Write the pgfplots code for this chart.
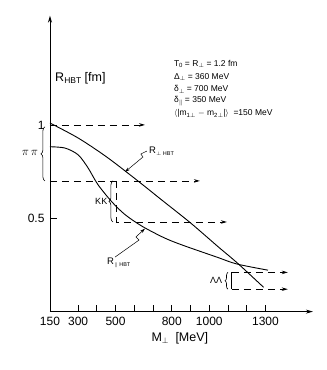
\documentclass[border=0pt]{standalone}
\usepackage{pgfplots}
\pgfplotsset{compat=1.18}
\usepackage{fontspec}
\setmainfont{Liberation Sans}
\usetikzlibrary{arrows.meta,decorations.pathreplacing}
\newcommand\sub[2][6]{\raisebox{-0.4ex}{\fontsize{#1}{#1}\selectfont #2}}
\begin{document}
\begin{tikzpicture}
\begin{axis}[
  scale only axis, width=263pt, height=296pt,
  xmin=150, xmax=1553, ymin=0, ymax=1.585,
  axis lines=left,
  axis line style={line width=0.9pt, -{Stealth[length=7pt,width=4pt]}},
  clip=false,
  xtick={150,300,500,800,1000,1300},
  minor xtick={400,600,700,900,1100,1200},
  ytick={0.5,1},
  yticklabels={0.5,1},
  tick align=inside,
  major tick length=7pt, minor tick length=7pt,
  tick style={line width=0.8pt, black},
  ticklabel style={font=\fontsize{12}{14}\selectfont},
  /pgf/number format/assume math mode=true,
  xticklabel style={yshift=-2pt},
  yticklabel style={xshift=-2pt},
  scaled x ticks=false,
  x tick label style={/pgf/number format/set thousands separator={}},
]
% R_perp HBT
\addplot[black, line width=0.9pt, smooth] coordinates {(150,1.01)(300,0.93)(450,0.83)(600,0.715)(750,0.595)(900,0.475)(1050,0.345)(1150,0.26)(1290,0.13)};
% R_par HBT
\addplot[black, line width=0.9pt, smooth] coordinates {(150,0.883)(230,0.876)(300,0.84)(353,0.77)(406,0.68)(481,0.587)(550,0.520)(640,0.458)(760,0.395)(860,0.355)(1040,0.292)(1147,0.255)(1313,0.222)};
% dashed reference lines
\addplot[black, line width=0.8pt, dash pattern=on 7pt off 5pt, -{Stealth[length=6pt,width=3.5pt]}] coordinates {(150,1.0)(657,1.0)};
\addplot[black, line width=0.8pt, dash pattern=on 7pt off 5pt, -{Stealth[length=6pt,width=3.5pt]}] coordinates {(150,0.70)(950,0.70)};
\addplot[black, line width=0.8pt, dash pattern=on 7pt off 5pt, -{Stealth[length=6pt,width=3.5pt]}] coordinates {(507,0.70)(507,0.48)(1094,0.48)};
\addplot[black, line width=0.8pt, dash pattern=on 7pt off 5pt, -{Stealth[length=6pt,width=3.5pt]}] coordinates {(1120,0.21)(1419,0.21)};
\addplot[black, line width=0.8pt, dash pattern=on 7pt off 5pt, -{Stealth[length=6pt,width=3.5pt]}] coordinates {(1120,0.12)(1419,0.12)};
\addplot[black, line width=0.7pt] coordinates {(1120,0.12)(1120,0.21)};
% braces
\draw[decorate, decoration={brace, amplitude=4pt}, line width=0.6pt] (axis cs:123,0.70) -- (axis cs:123,0.99);
\draw[decorate, decoration={brace, amplitude=4pt}, line width=0.6pt] (axis cs:486,0.48) -- (axis cs:486,0.70);
\draw[decorate, decoration={brace, amplitude=3pt}, line width=0.6pt] (axis cs:1100,0.12) -- (axis cs:1100,0.21);
% labels
\node at (axis cs:43,0.85) {\fontsize{12}{14}\selectfont$\pi\,\pi$};
\node[anchor=east, inner sep=1pt] at (axis cs:462,0.59) {\fontsize{9}{10}\selectfont KK};
\node[anchor=east, inner sep=1pt] at (axis cs:1075,0.165) {\fontsize{9}{10}\selectfont ΛΛ};
\node[anchor=west, inner sep=1pt] at (axis cs:673,0.86) {\fontsize{9.5}{10}\selectfont R\sub[5.5]{$\perp$ HBT}};
\node[anchor=west, inner sep=1pt] at (axis cs:449,0.26) {\fontsize{9.5}{10}\selectfont R\sub[5.5]{$\parallel$ HBT}};
\draw[-{Stealth[length=5pt,width=3pt]}, line width=0.5pt] (axis cs:667,0.860) -- (axis cs:635,0.844) -- (axis cs:646,0.828) -- (axis cs:550,0.748);
\draw[-{Stealth[length=5pt,width=3pt]}, line width=0.5pt] (axis cs:497,0.292) -- (axis cs:625,0.383) -- (axis cs:609,0.40) -- (axis cs:657,0.445);
% axis titles
\node[anchor=west, inner sep=0pt] at (axis cs:177,1.251) {\fontsize{12.5}{14}\selectfont R\sub[8.5]{HBT} [fm]};
\node[inner sep=0pt] at (axis cs:843,-0.141) {\fontsize{12.5}{14}\selectfont M\sub[8.5]{$\perp$}\ \ [MeV]};
% parameters
\node[anchor=west, inner sep=0pt] at (axis cs:811,1.326) {\fontsize{8.5}{10}\selectfont T\sub{0} = R\sub{$\perp$} = 1.2 fm};
\node[anchor=west, inner sep=0pt] at (axis cs:811,1.256) {\fontsize{8.5}{10}\selectfont Δ\sub{$\perp$} = 360 MeV};
\node[anchor=west, inner sep=0pt] at (axis cs:811,1.192) {\fontsize{8.5}{10}\selectfont δ\sub{$\perp$} = 700 MeV};
\node[anchor=west, inner sep=0pt] at (axis cs:811,1.128) {\fontsize{8.5}{10}\selectfont δ\sub{$\parallel$} = 350 MeV};
\node[anchor=west, inner sep=0pt] at (axis cs:811,1.063) {\fontsize{8.5}{10}\selectfont $\langle$|m\sub{1$\perp$} $-$ m\sub{2$\perp$}|$\rangle$ \ =150 MeV};
\coordinate (bl) at (axis cs:-116.7,-0.3128);
\coordinate (tr) at (axis cs:1627.7,1.669);
\end{axis}
\pgfresetboundingbox
\path[use as bounding box] (bl) rectangle (tr);
\end{tikzpicture}
\end{document}
